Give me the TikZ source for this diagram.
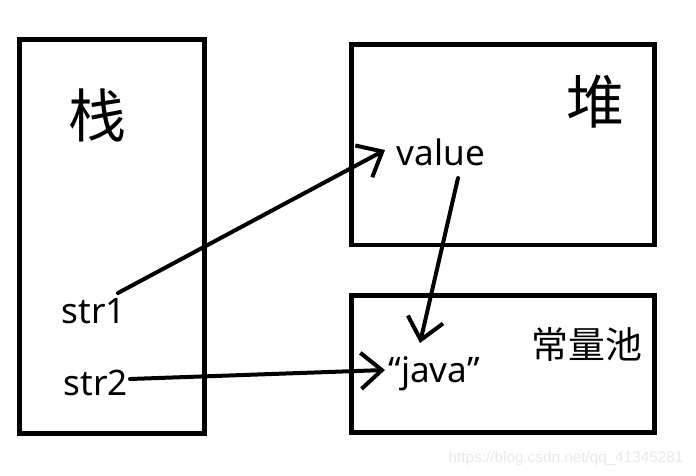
\documentclass[tikz,border=0pt]{standalone}
\usepackage{fontspec}
\setmainfont{Noto Sans}
\newfontfamily\cjk{Noto Sans CJK SC}
\newfontfamily\marque{Liberation Sans}
\usetikzlibrary{arrows.meta}
\tikzstyle{boite}=[line width=0.1cm]
\tikzstyle{fleche}=[line width=0.08cm, line cap=round, -{Straight Barb[length=0.42cm,width=0.72cm]}]
\tikzstyle{titre}=[inner sep=0pt, font=\cjk\fontsize{33}{40}\selectfont]
\tikzstyle{mot}=[inner sep=0pt, anchor=base, font=\fontsize{20}{24}\selectfont]

\begin{document}
\begin{tikzpicture}[x=0.02cm, y=-0.02cm]
\useasboundingbox (0,0) rectangle (696,476);

% pile
\draw[boite] (19.5,39.5) rectangle (204.5,433);
\node[titre] (pile) at (97,115.5) {栈};
\node[mot] (str1) at (94,323) {str1};
\node[mot] (str2) at (96,395) {str2};
\coordinate (str1-out) at (118,293);
\coordinate (str2-out) at (130,379);

% tas
\draw[boite] (351,45) rectangle (654,245);
\node[titre] (tas) at (595,101.5) {堆};
\node[mot] (value) at (441,166) {value};
\coordinate (value-in) at (385,150);
\coordinate (value-out) at (458,178);

% constantes
\draw[boite] (351,295.5) rectangle (654,432);
\node[titre, font=\cjk\fontsize{21}{26}\selectfont] (pool) at (587,344.5) {常量池};
\node[mot] (java) at (434,382) {“java”};
\coordinate (java-top) at (420,343);
\coordinate (java-in) at (385,370);

% fleches
\draw[fleche] (str1-out) -- (value-in);
\draw[fleche] (value-out) -- (java-top);
\draw[fleche] (str2-out) -- (java-in);

\node[text=black!9, font=\marque\fontsize{8.7}{10}\selectfont] (url) at (566,459) {https://blog.csdn.net/qq\_41345281};

\end{tikzpicture}
\end{document}
